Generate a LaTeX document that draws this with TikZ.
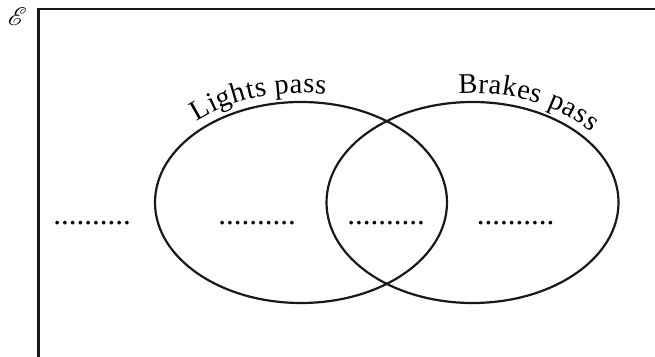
\documentclass[tikz,border=0pt]{standalone}
\usepackage{fontspec}
\setmainfont{Liberation Serif}
\usepackage{graphicx}
\usepackage{mathrsfs}
\usetikzlibrary{calc,decorations.text}
\begin{document}
\begin{tikzpicture}[x=1pt,y=1pt,
  setline/.style={line width=2.2pt,draw=black!90},
  framestyle/.style={line width=2.5pt,draw=black!90},
  dotsty/.style={font=\fontsize{31}{36}\selectfont,inner sep=0pt,anchor=base},
  arclabel/.style={decorate,decoration={text along path,text align=center,raise=9pt,
      text={|\fontsize{28.5}{34}\selectfont|#1}}}]
\useasboundingbox (0,0) rectangle (655,356);
\clip (0,0) rectangle (655,356);
% universal set frame
\coordinate (fb) at (38.5,-20);
\coordinate (ftl) at (38.5,347);
\coordinate (fr) at (700,347);
\draw[framestyle] (fb) -- (ftl) -- (fr);
\node[inner sep=0pt] (univ) at (17.5,339) {\resizebox{19pt}{!}{$\mathscr{E}$}};
% ellipses
\coordinate (cL) at (301,153.5);
\coordinate (cR) at (472.5,153.5);
\draw[setline] (cL) ellipse[x radius=146, y radius=100.5];
\draw[setline] (cR) ellipse[x radius=146, y radius=100.5];
% labels on arcs
\path[arclabel={Lights pass}] ($(cL)+(147:146pt and 100.5pt)$) arc[start angle=147,end angle=69,x radius=146,y radius=100.5];
\path[arclabel={Brakes pass}] ($(cR)+(112:146pt and 100.5pt)$) arc[start angle=112,end angle=18,x radius=146,y radius=100.5];
% dotted placeholders
\node[dotsty] (d1) at (92,131.5) {..........};
\node[dotsty] (d2) at (257,131.5) {..........};
\node[dotsty] (d3) at (386,131.5) {..........};
\node[dotsty] (d4) at (515.5,131.5) {..........};
\end{tikzpicture}
\end{document}
